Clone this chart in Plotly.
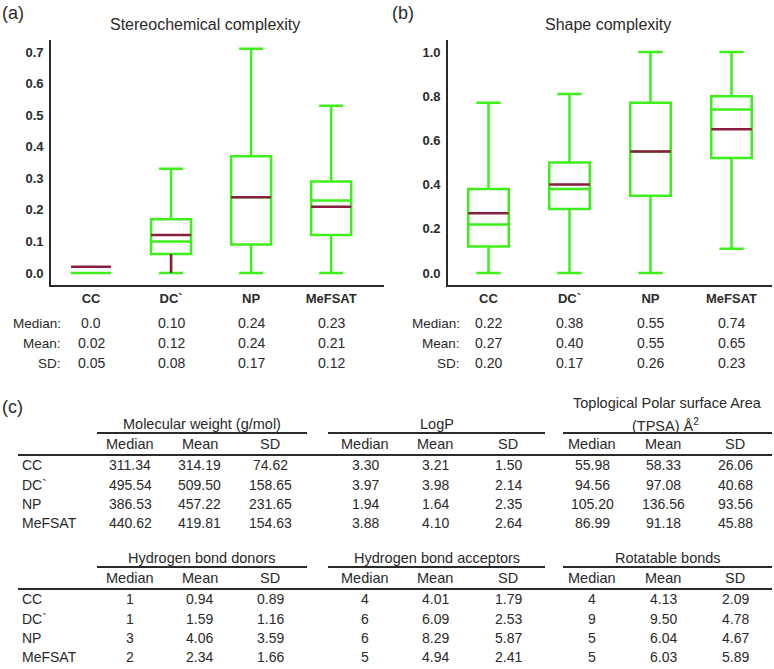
import plotly.graph_objects as go

W, H = 774, 669

groups = ["CC", "DC`", "NP", "MeFSAT"]

# (a) stereochemical complexity - box summary
stereo_min = [0.0, 0.0, 0.0, 0.0]
stereo_q1 = [0.0, 0.06, 0.09, 0.12]
stereo_med = [0.0, 0.10, 0.24, 0.23]
stereo_q3 = [0.0, 0.17, 0.37, 0.29]
stereo_max = [0.0, 0.33, 0.71, 0.53]
stereo_mean = [0.02, 0.12, 0.24, 0.21]
stereo_sd = [0.05, 0.08, 0.17, 0.12]
stereo_med_txt = ["0.0", "0.10", "0.24", "0.23"]

# (b) shape complexity
shape_min = [0.0, 0.0, 0.0, 0.11]
shape_q1 = [0.12, 0.29, 0.35, 0.52]
shape_med = [0.22, 0.38, 0.55, 0.74]
shape_q3 = [0.38, 0.50, 0.77, 0.80]
shape_max = [0.77, 0.81, 1.0, 1.0]
shape_mean = [0.27, 0.40, 0.55, 0.65]
shape_sd = [0.20, 0.17, 0.26, 0.23]

# (c) descriptor table
mw_median = [311.34, 495.54, 386.53, 440.62]
mw_mean = [314.19, 509.50, 457.22, 419.81]
mw_sd = [74.62, 158.65, 231.65, 154.63]
logp_median = [3.30, 3.97, 1.94, 3.88]
logp_mean = [3.21, 3.98, 1.64, 4.10]
logp_sd = [1.50, 2.14, 2.35, 2.64]
tpsa_median = [55.98, 94.56, 105.20, 86.99]
tpsa_mean = [58.33, 97.08, 136.56, 91.18]
tpsa_sd = [26.06, 40.68, 93.56, 45.88]
hbd_median = [1, 1, 3, 2]
hbd_mean = [0.94, 1.59, 4.06, 2.34]
hbd_sd = [0.89, 1.16, 3.59, 1.66]
hba_median = [4, 6, 6, 5]
hba_mean = [4.01, 6.09, 8.29, 4.94]
hba_sd = [1.79, 2.53, 5.87, 2.41]
rot_median = [4, 9, 5, 5]
rot_mean = [4.13, 9.50, 6.04, 6.03]
rot_sd = [2.09, 4.78, 4.67, 5.89]

GREEN = "#3ef01a"
RED = "#8a1e40"
INK = "#2a2a2a"
FONT = "Liberation Sans, Arial, sans-serif"


def px(x):
    return x / W


def py(y):
    return 1 - y / H


def box_pair(q1, med, q3, lo, hi, mean, xa, ya):
    box = go.Box(
        x=groups, q1=q1, median=med, q3=q3, lowerfence=lo, upperfence=hi,
        line=dict(color=GREEN, width=2.5), fillcolor="rgba(0,0,0,0)",
        whiskerwidth=0.6, width=0.5, xaxis=xa, yaxis=ya, hoverinfo="skip",
    )
    mean_line = go.Box(
        x=groups, q1=mean, median=mean, q3=mean, lowerfence=mean, upperfence=mean,
        line=dict(color=RED, width=2.5), fillcolor="rgba(0,0,0,0)",
        whiskerwidth=0, width=0.5, xaxis=xa, yaxis=ya, hoverinfo="skip",
    )
    return [box, mean_line]


fig = go.Figure()
# the DC` lower whisker is drawn in the mean colour in the original
fig.add_trace(go.Scatter(
    x=[groups[1], groups[1]], y=[stereo_min[1], stereo_q1[1]], mode="lines",
    line=dict(color=RED, width=2.5), xaxis="x", yaxis="y", hoverinfo="skip",
))
for t in box_pair(stereo_q1, stereo_med, stereo_q3, stereo_min, stereo_max, stereo_mean, "x", "y"):
    fig.add_trace(t)
for t in box_pair(shape_q1, shape_med, shape_q3, shape_min, shape_max, shape_mean, "x2", "y2"):
    fig.add_trace(t)

axis_common = dict(
    showline=True, linecolor=INK, linewidth=1.8, showgrid=False, zeroline=False,
    ticks="", tickfont=dict(family=FONT, size=13, color=INK, weight="bold"),
    fixedrange=True,
)
fig.update_layout(
    width=W, height=H, margin=dict(l=0, r=0, t=0, b=0),
    paper_bgcolor="white", plot_bgcolor="white",
    showlegend=False, boxmode="overlay",
    font=dict(family=FONT, color=INK),
    xaxis=dict(domain=[px(51), px(384)], range=[-0.5, 3.66], anchor="y",
               categoryorder="array", categoryarray=groups, **axis_common),
    yaxis=dict(domain=[py(285), py(40)], range=[-0.038, 0.738], dtick=0.1,
               tickformat=".1f", anchor="x", ticklabelstandoff=3, **axis_common),
    xaxis2=dict(domain=[px(448), px(772)], range=[-0.5, 3.5], anchor="y2",
                categoryorder="array", categoryarray=groups, **axis_common),
    yaxis2=dict(domain=[py(285), py(40)], range=[-0.054, 1.054], dtick=0.2,
                tickformat=".1f", anchor="x2", ticklabelstandoff=3, **axis_common),
)


def text(x, y, s, size=14, xanchor="center", xref="paper", weight="normal"):
    fig.add_annotation(
        x=x, y=y, xref=xref, yref="paper", text=s, showarrow=False,
        xanchor=xanchor, yanchor="middle",
        font=dict(family=FONT, size=size, color=INK, weight=weight),
    )


def hline(x0, x1, y, width=2):
    fig.add_shape(type="line", xref="paper", yref="paper",
                  x0=px(x0), x1=px(x1), y0=py(y), y1=py(y),
                  line=dict(color=INK, width=width))


# panel labels and titles
text(px(0), py(13), "(a)", size=18, xanchor="left")
text(px(390), py(13), "(b)", size=18, xanchor="left")
text(px(0), py(407), "(c)", size=18, xanchor="left")
text(px(205), py(25), "Stereochemical complexity", size=16)
text(px(608), py(25), "Shape complexity", size=16)

# stats under the box plots
stat_rows = [("Median:", 323), ("Mean:", 343), ("SD:", 363)]
for (label, yy), vals in zip(stat_rows, [stereo_med_txt, stereo_mean, stereo_sd]):
    text(px(63), py(yy), label, xanchor="right", size=13.5)
    for i, v in enumerate(vals):
        s = v if isinstance(v, str) else f"{v:.2f}"
        text(i, py(yy), s, xref="x")
for (label, yy), vals in zip(stat_rows, [shape_med, shape_mean, shape_sd]):
    text(px(462), py(yy), label, xanchor="right", size=13.5)
    for i, v in enumerate(vals):
        text(i, py(yy), f"{v:.2f}", xref="x2")

# (c) tables
col_x = [130, 200, 270, 365, 435, 508, 592, 663, 735]
group_spans = [(97, 307), (328, 545), (563, 772)]


def fmt(v):
    return str(v) if isinstance(v, int) else f"{v:.2f}"


def table(top, titles, cols):
    head_y, line1_y, sub_y, line2_y = top, top + 9, top + 20, top + 31
    row_y = [line2_y + 10, line2_y + 30, line2_y + 49, line2_y + 68]
    for (x0, x1), title in zip(group_spans, titles):
        if title:
            text(px((x0 + x1) / 2), py(head_y), title, size=14.5)
        hline(x0, x1, line1_y)
    for j, cx in enumerate(col_x):
        text(px(cx), py(sub_y), ["Median", "Mean", "SD"][j % 3], size=14.5)
    hline(18, 772, line2_y)
    for r, g in enumerate(groups):
        text(px(20), py(row_y[r]), g, xanchor="left")
        for j, series in enumerate(cols):
            text(px(col_x[j]), py(row_y[r]), fmt(series[r]))


table(424, ["Molecular weight (g/mol)", "LogP", None],
      [mw_median, mw_mean, mw_sd, logp_median, logp_mean, logp_sd,
       tpsa_median, tpsa_mean, tpsa_sd])
text(px(667), py(403), "Toplogical Polar surface Area", size=14.5)
text(px(665), py(425), "(TPSA) Å<sup>2</sup>", size=14.5)
table(558, ["Hydrogen bond donors", "Hydrogen bond acceptors", "Rotatable bonds"],
      [hbd_median, hbd_mean, hbd_sd, hba_median, hba_mean, hba_sd,
       rot_median, rot_mean, rot_sd])

fig.write_html("out.html", config={"displayModeBar": False},
               post_script="document.body.style.margin='0';")
